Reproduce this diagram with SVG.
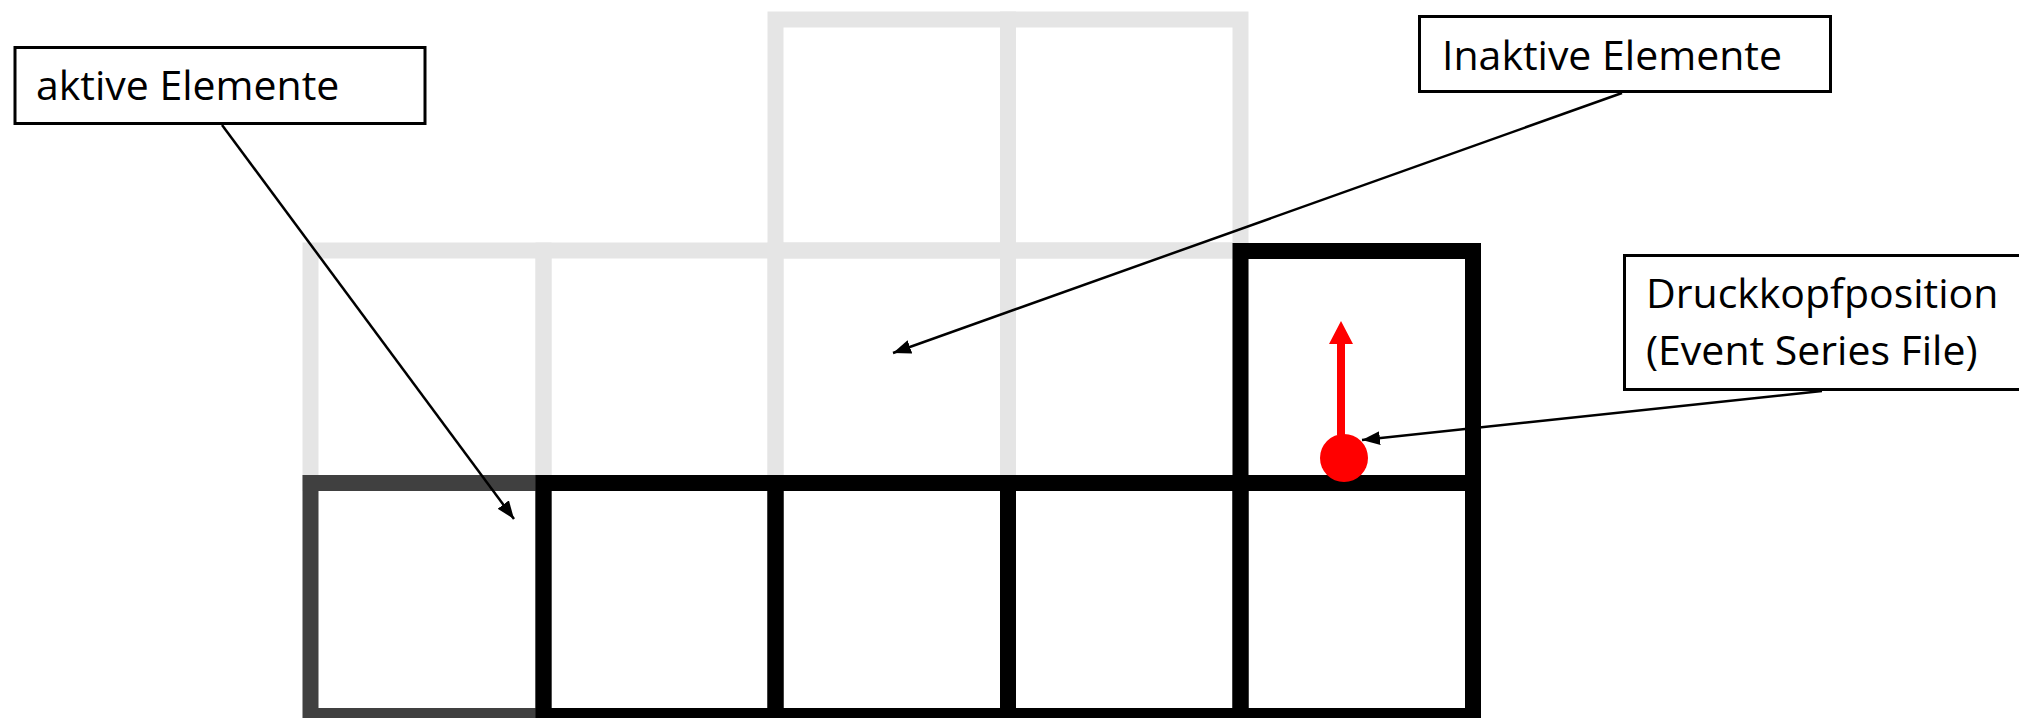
<svg xmlns="http://www.w3.org/2000/svg" width="2019" height="718" viewBox="0 0 2019 718">
<style>
.inactive{fill:none;stroke:#e5e5e5;stroke-width:16}
.active{fill:none;stroke:#000;stroke-width:16}
.active-dark{fill:none;stroke:#404040;stroke-width:16}
.label rect{fill:#fff;stroke:#000;stroke-width:3}
.label text{font-family:"Open Sans","Noto Sans",sans-serif;font-size:41px;fill:#000}
.conn{stroke:#000;stroke-width:2.5;fill:none;marker-end:url(#ah)}
</style>
<defs>
<marker id="ah" markerUnits="userSpaceOnUse" markerWidth="20" markerHeight="16" refX="18" refY="7" orient="auto">
<path d="M0,0 L18,7 L0,14 Z" fill="#000"/>
</marker>
</defs>
<rect width="2019" height="718" fill="#fff"/>
<g id="grid-inactive">
<rect id="cell-i1" class="inactive" x="310.5" y="250.5" width="233" height="232.5"/>
<rect id="cell-i2" class="inactive" x="543.5" y="250.5" width="232" height="232.5"/>
<rect id="cell-i3" class="inactive" x="775.5" y="250.5" width="232.5" height="232.5"/>
<rect id="cell-i4" class="inactive" x="1008" y="250.5" width="232.5" height="232.5"/>
<rect id="cell-i5" class="inactive" x="775.5" y="19.5" width="232.5" height="231"/>
<rect id="cell-i6" class="inactive" x="1008" y="19.5" width="232.5" height="231"/>
</g>
<g id="grid-active">
<rect id="cell-a1" class="active-dark" x="310.5" y="483" width="233" height="233"/>
<rect id="cell-a2" class="active" x="543.5" y="483" width="232" height="233"/>
<rect id="cell-a3" class="active" x="775.5" y="483" width="232.5" height="233"/>
<rect id="cell-a4" class="active" x="1008" y="483" width="232.5" height="233"/>
<rect id="cell-a5" class="active" x="1240.5" y="483" width="232.5" height="233"/>
<rect id="cell-a6" class="active" x="1240.5" y="251" width="232.5" height="232"/>
</g>
<g id="printhead">
<polygon points="1337,435 1337,344 1329,344 1341,321 1353,344 1345,344 1345,435" fill="#f00"/>
<circle cx="1344" cy="458" r="24" fill="#f00"/>
</g>
<g id="label-active" class="label">
<rect x="15" y="47.5" width="410" height="76"/>
<text x="36" y="100">aktive Elemente</text>
</g>
<g id="label-inactive" class="label">
<rect x="1419.5" y="16.5" width="411" height="75"/>
<text x="1442" y="70">Inaktive Elemente</text>
</g>
<g id="label-head" class="label">
<rect x="1624.5" y="255.5" width="420" height="134"/>
<text x="1646" y="308">Druckkopfposition</text>
<text x="1646" y="365">(Event Series File)</text>
</g>
<g id="connectors">
<line class="conn" x1="222" y1="125" x2="514" y2="519"/>
<line class="conn" x1="1622" y1="93" x2="893" y2="353"/>
<line class="conn" x1="1822" y1="391" x2="1362" y2="440"/>
</g>
</svg>
